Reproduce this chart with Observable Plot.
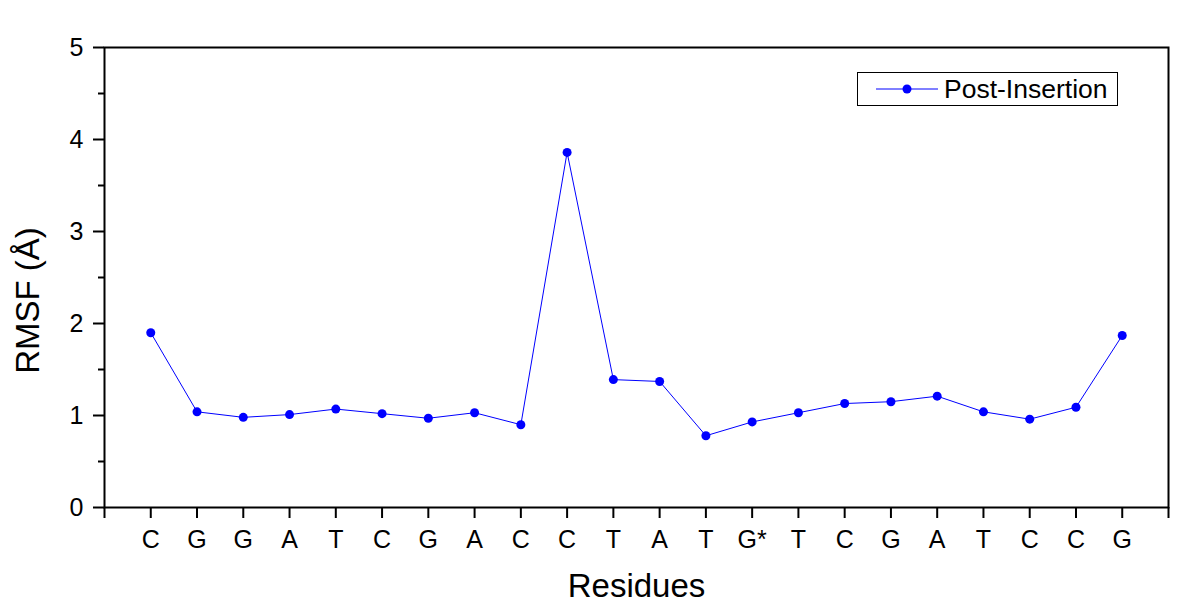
<!DOCTYPE html>
<html>
<head>
<meta charset="utf-8">
<script src="https://cdn.jsdelivr.net/npm/d3@7"></script>
<script src="https://cdn.jsdelivr.net/npm/@observablehq/plot@0.6"></script>
<style>
  html, body { margin: 0; padding: 0; background: #fff; }
  #wrap { position: relative; width: 1201px; height: 602px; font-family: Arial, "Liberation Sans", sans-serif; }
  #legend { position: absolute; left: 857px; top: 72px; width: 261px; height: 34px; border: 1px solid #000; background: #fff; box-sizing: border-box; display: flex; align-items: center; }
  #legend span { font-size: 26.5px; margin-left: 6px; color: #000; white-space: nowrap; }
</style>
</head>
<body>
<div id="wrap">
  <div id="chart"></div>
  <div id="legend">
    <svg width="62" height="30" style="margin-left: 18px"><line x1="0" x2="62" y1="15" y2="15" stroke="#0000ff" stroke-width="1"/><circle cx="31" cy="15" r="4.5" fill="#0000ff"/></svg>
    <span>Post-Insertion</span>
  </div>
</div>
<script>
const residues = ["C","G","G","A","T","C","G","A","C","C","T","A","T","G*","T","C","G","A","T","C","C","G"];
const rmsf = [1.90,1.04,0.98,1.01,1.07,1.02,0.97,1.03,0.90,3.86,1.39,1.37,0.78,0.93,1.03,1.13,1.15,1.21,1.04,0.96,1.09,1.87];
const seriesName = "Post-Insertion";
const yMajor = [0,1,2,3,4,5];
const yMinor = [0.5,1.5,2.5,3.5,4.5];

const data = residues.map((r, i) => ({pos: i + 1, residue: r, value: rmsf[i]}));
const xTicks = d3.range(0, residues.length + 2);

const chart = Plot.plot({
  width: 1201,
  height: 602,
  marginLeft: 104,
  marginRight: 33,
  marginTop: 47,
  marginBottom: 95,
  style: {fontFamily: "Arial, 'Liberation Sans', sans-serif", background: "transparent", color: "#000"},
  x: {domain: [0, residues.length + 1]},
  y: {domain: [0, 5]},
  marks: [
    Plot.axisX({ticks: xTicks, tickFormat: d => (d >= 1 && d <= residues.length) ? residues[d - 1] : "", tickSize: 11, tickPadding: 12, fontSize: 25, strokeWidth: 2, label: null}),
    Plot.axisY({ticks: yMajor, tickFormat: d3.format("d"), tickSize: 11, tickPadding: 10, fontSize: 25, strokeWidth: 2, label: null}),
    Plot.axisY({ticks: yMinor, tickFormat: () => "", tickSize: 6, strokeWidth: 2, label: null}),
    Plot.frame({stroke: "#000", strokeWidth: 2}),
    Plot.line(data, {x: "pos", y: "value", stroke: "#0000ff", strokeWidth: 1}),
    Plot.dot(data, {x: "pos", y: "value", r: 4.5, fill: "#0000ff", stroke: "none"}),
    Plot.text(["Residues"], {frameAnchor: "bottom", textAnchor: "middle", dy: 89, fontSize: 33, fill: "#000"}),
    Plot.text(["RMSF (Å)"], {frameAnchor: "left", textAnchor: "middle", lineAnchor: "middle", rotate: -90, dx: -76, dy: 23, fontSize: 33, fill: "#000"})
  ]
});
document.getElementById("chart").appendChild(chart);
</script>
</body>
</html>
